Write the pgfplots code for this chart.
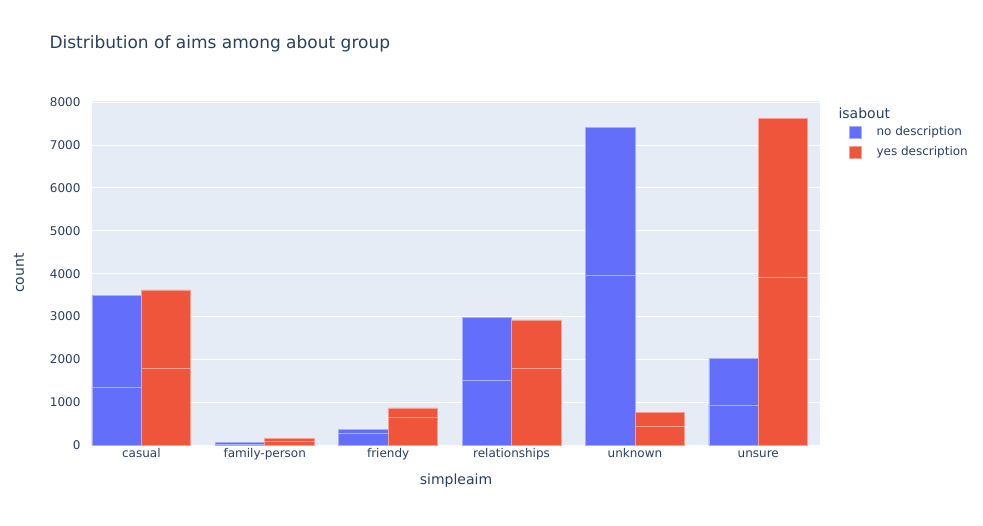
\documentclass[border=0pt]{standalone}
\usepackage{fontspec}
\setmainfont{DejaVu Sans}
\usepackage{pgfplots}
\pgfplotsset{compat=1.18}
\definecolor{plblue}{HTML}{636EFA}
\definecolor{plred}{HTML}{EF553B}
\definecolor{plbg}{HTML}{E5ECF6}
\definecolor{pltext}{HTML}{2A3F5F}
\begin{document}
\begin{tikzpicture}[x=1pt,y=1pt]
\begin{axis}[scale only axis,
  width=728pt, height=344pt,
  xmin=-0.4, xmax=5.5, ymin=0, ymax=8030,
  axis background/.style={fill=plbg},
  axis line style={draw=none},
  xtick={0,...,5},
  xticklabels={casual,family-person,friendy,relationships,unknown,unsure},
  ytick={0,1000,...,8000},
  ymajorgrids, major grid style={white, line width=1pt},
  tick style={draw=none},
  ticklabel style={font=\fontsize{12}{14}\selectfont, text=pltext},
  xticklabel style={yshift=4pt, text height=9pt, text depth=3pt},
  yticklabel style={xshift=-8pt},
  /pgf/number format/assume math mode=true,
  /pgf/number format/1000 sep={},
  xlabel={simpleaim}, ylabel={count},
  every axis x label/.style={at={(axis description cs:0.5,0)}, yshift=-36pt, anchor=center, font=\fontsize{14}{16}\selectfont, text=pltext},
  every axis y label/.style={at={(axis description cs:0,0.5)}, xshift=-73pt, anchor=center, rotate=90, font=\fontsize{14}{16}\selectfont, text=pltext},
  ybar, bar width=0.4,
]
% no description: totals then lower segment
\addplot[fill=plblue, draw=white!45!plblue, line width=0.6pt, bar shift=-0.2]
  coordinates {(0,3500) (1,55) (2,365) (3,2980) (4,7410) (5,2025)};
\addplot[fill=plblue, draw=white!45!plblue, line width=0.6pt, bar shift=-0.2]
  coordinates {(0,1350) (1,20) (2,265) (3,1520) (4,3970) (5,935)};
% yes description
\addplot[fill=plred, draw=white!45!plred, line width=0.6pt, bar shift=0.2]
  coordinates {(0,3620) (1,155) (2,865) (3,2920) (4,765) (5,7625)};
\addplot[fill=plred, draw=white!45!plred, line width=0.6pt, bar shift=0.2]
  coordinates {(0,1780) (1,95) (2,655) (3,1780) (4,435) (5,3915)};
\coordinate (sw) at (rel axis cs:0,0);
\end{axis}
\useasboundingbox ([shift={(-92,-80)}]sw) rectangle ([shift={(891,445)}]sw);
\node[anchor=west, text=pltext, font=\fontsize{17}{20}\selectfont] at ([shift={(-46,401)}]sw) {Distribution of aims among about group};
\node[anchor=west, text=pltext, font=\fontsize{14}{16}\selectfont] at ([shift={(743,332)}]sw) {isabout};
\fill[plblue, draw=white!45!plblue] ([shift={(757,307)}]sw) rectangle ([shift={(769,319)}]sw);
\fill[plred, draw=white!45!plred] ([shift={(757,287)}]sw) rectangle ([shift={(769,299)}]sw);
\node[anchor=west, text=pltext, font=\fontsize{12}{14}\selectfont] at ([shift={(781,313)}]sw) {no description};
\node[anchor=west, text=pltext, font=\fontsize{12}{14}\selectfont] at ([shift={(781,293)}]sw) {yes description};
\end{tikzpicture}
\end{document}
